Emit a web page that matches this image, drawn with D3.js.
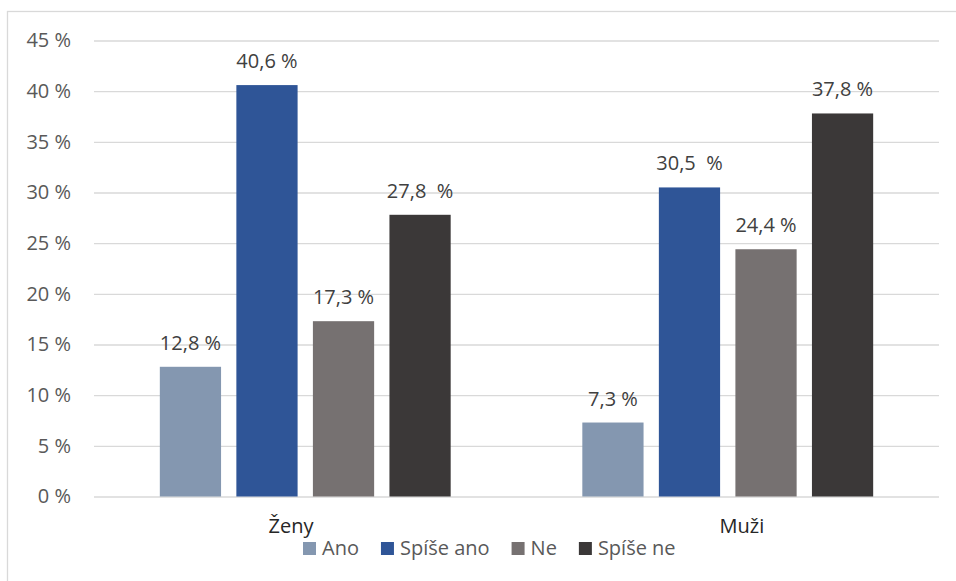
<!DOCTYPE html>
<html>
<head>
  <meta charset="utf-8">
  <title>Ženy / Muži</title>
  <style>
    body { margin: 0; background: #fff; }
    svg text { font-family: "Open Sans", "Noto Sans", sans-serif; }
    .axis .domain { display: none; }
    .axis .tick line { stroke: #d9d9d9; stroke-width: 1.4; }
    .axis .tick text { fill: #595959; font-size: 20px; }
  </style>
</head>
<body>
  <svg id="chart" width="956" height="581"></svg>
  <script src="https://d3js.org/d3.v7.min.js"></script>
  <script>
    // data
    var groups = ["Ženy", "Muži"];
    var series = ["Ano", "Spíše ano", "Ne", "Spíše ne"];
    var zenyValues = [12.8, 40.6, 17.3, 27.8];
    var muziValues = [7.3, 30.5, 24.4, 37.8];
    var zenyLabels = ["12,8 %", "40,6 %", "17,3 %", "27,8  %"];
    var muziLabels = ["7,3 %", "30,5  %", "24,4 %", "37,8 %"];
    var yTicks = [0, 5, 10, 15, 20, 25, 30, 35, 40, 45];
    var colors = ["#8497b0", "#2f5597", "#767171", "#3b3838"];

    var svg = d3.select("#chart"),
        margin = {top: 40.5, right: 17, bottom: 84.5, left: 94},
        width = +svg.attr("width") - margin.left - margin.right,
        height = +svg.attr("height") - margin.top - margin.bottom;

    // outer frame (right/bottom run off the picture)
    svg.append("rect")
      .attr("x", 7.5).attr("y", 11.5)
      .attr("width", 1000).attr("height", 700)
      .attr("fill", "none")
      .attr("stroke", "#d9d9d9")
      .attr("stroke-width", 1.3);

    var graph = svg.append("g")
      .attr("transform", "translate(" + margin.left + "," + margin.top + ")");

    var x0 = d3.scaleBand().domain(groups).range([0, width]).padding(0);
    var x1 = d3.scaleBand().domain(series).range([0, x0.bandwidth()])
      .paddingInner(0.2).paddingOuter(0.86);
    var y = d3.scaleLinear().domain([0, 45]).range([height, 0]);
    // category labels sit a bit outward from the group centres
    var xLab = d3.scalePoint().domain(groups).range([0, width]).padding(0.437);

    var table = groups.map(function(g, i) {
      var vals = i === 0 ? zenyValues : muziValues;
      var labs = i === 0 ? zenyLabels : muziLabels;
      return {
        group: g,
        items: series.map(function(s, j) {
          return {key: s, value: vals[j], label: labs[j], color: colors[j]};
        })
      };
    });

    //Y axis with gridlines
    graph.append("g")
      .attr("class", "axis")
      .call(d3.axisLeft(y)
        .tickValues(yTicks)
        .tickSize(-width)
        .tickPadding(23)
        .tickFormat(function(d) { return d + " %"; }));

    //Bars
    var gs = graph.append("g")
      .selectAll("g")
      .data(table)
      .enter().append("g")
      .attr("transform", function(d) { return "translate(" + x0(d.group) + ",0)"; });

    gs.selectAll("rect")
      .data(function(d) { return d.items; })
      .enter().append("rect")
      .attr("x", function(d) { return x1(d.key); })
      .attr("y", function(d) { return y(d.value); })
      .attr("width", x1.bandwidth())
      .attr("height", function(d) { return height - y(d.value); })
      .attr("fill", function(d) { return d.color; });

    gs.selectAll("text")
      .data(function(d) { return d.items; })
      .enter().append("text")
      .attr("x", function(d) { return x1(d.key) + x1.bandwidth() / 2; })
      .attr("y", function(d) { return y(d.value) - 17; })
      .attr("text-anchor", "middle")
      .attr("fill", "#404040")
      .attr("font-size", 20)
      .style("white-space", "pre")
      .text(function(d) { return d.label; });

    //Category labels
    graph.append("g")
      .selectAll("text")
      .data(groups)
      .enter().append("text")
      .attr("x", function(d) { return xLab(d); })
      .attr("y", height + 36)
      .attr("text-anchor", "middle")
      .attr("fill", "#262626")
      .attr("font-size", 20)
      .text(function(d) { return d; });

    //Legend
    var legend = svg.append("g")
      .attr("transform", "translate(303,0)");
    var lx = 0;
    series.forEach(function(s, i) {
      legend.append("rect")
        .attr("x", lx).attr("y", 542)
        .attr("width", 13).attr("height", 13)
        .attr("fill", colors[i]);
      var t = legend.append("text")
        .attr("x", lx + 19).attr("y", 555)
        .attr("fill", "#595959")
        .attr("font-size", 20)
        .text(s);
      lx += 19 + t.node().getComputedTextLength() + 22;
    });
  </script>
</body>
</html>
